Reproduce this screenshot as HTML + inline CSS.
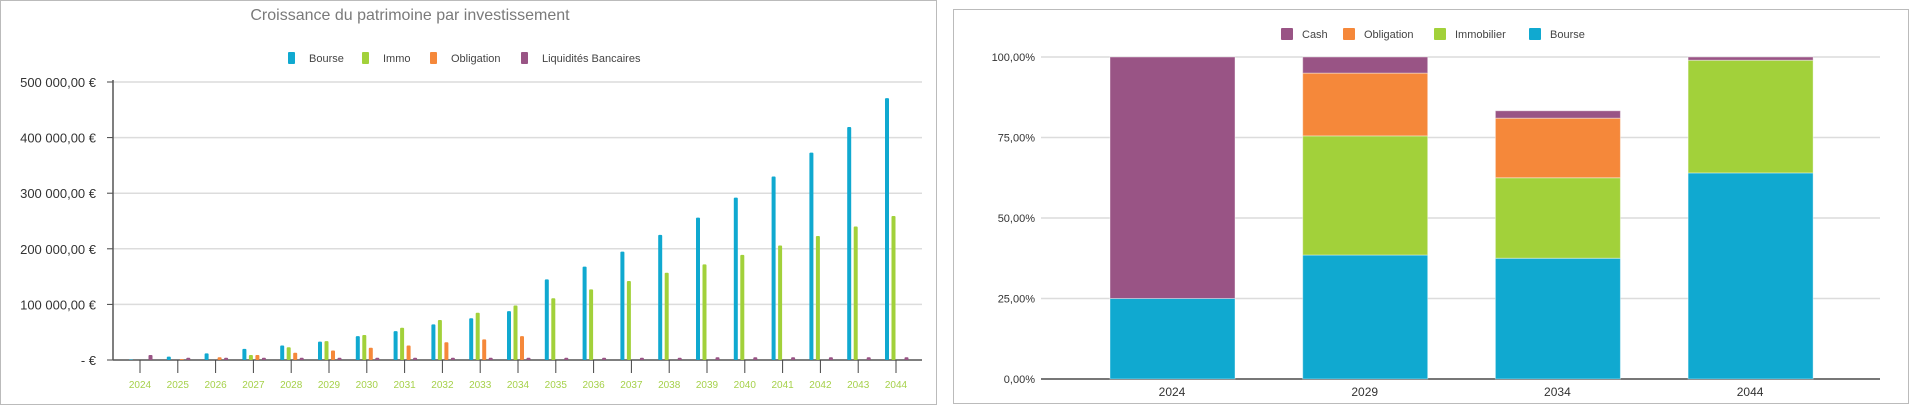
<!DOCTYPE html>
<html><head><meta charset="utf-8"><style>
html,body{margin:0;padding:0;background:#fff;}
svg{display:block;font-family:"Liberation Sans",sans-serif;}
</style></head><body>
<svg id="s" width="1920" height="408" xmlns="http://www.w3.org/2000/svg">
<rect x="0.5" y="0.5" width="936" height="404" fill="#fff" stroke="#bbb"/>
<rect x="953.5" y="9.5" width="955" height="394" fill="#fff" stroke="#bbb"/>
<text x="410" y="20" text-anchor="middle" font-size="16" fill="#7a7a7a">Croissance du patrimoine par investissement</text>
<g id="leftChart"></g>
<g id="rightChart"></g>
</svg>
<script>
const years = ["2024","2025","2026","2027","2028","2029","2030","2031","2032","2033","2034","2035","2036","2037","2038","2039","2040","2041","2042","2043","2044"];
const bourse = [1000,6000,12000,20000,26000,33000,43000,52000,64000,75000,88000,145000,168000,195000,225000,256000,292000,330000,373000,419000,471000];
const immo = [0,0,0,9000,23000,34000,45000,58000,72000,85000,98000,111000,127000,142000,157000,172000,189000,206000,223000,240000,259000];
const obligation = [0,1500,5000,9000,13000,17000,22000,26000,32000,37000,43000,0,0,0,0,0,0,0,0,0,0];
const liquidites = [9000,4000,4000,4000,4000,4000,4000,4000,4000,4000,4000,4000,4000,4000,4000,5000,5000,5000,5000,5000,5000];
const yTicks = [0,100000,200000,300000,400000,500000];
const yTickLabels = ["-   €","100 000,00   €","200 000,00   €","300 000,00   €","400 000,00   €","500 000,00   €"];

const pctYears = ["2024","2029","2034","2044"];
const pctBourse = [25,38.5,37.5,64];
const pctImmo = [0,37,25,35];
const pctOblig = [0,19.5,18.5,0];
const pctCash = [75,5,2.3,1];
const pctTicks = [0,25,50,75,100];
const pctTickLabels = ["0,00%","25,00%","50,00%","75,00%","100,00%"];

const NS="http://www.w3.org/2000/svg";
const C={b:"#10a9d0",i:"#a2d13a",o:"#f5883a",c:"#995485"};
function mk(p,tag,at,txt){const e=document.createElementNS(NS,tag);for(const k in at)e.setAttribute(k,at[k]);if(txt!==undefined)e.textContent=txt;p.appendChild(e);return e;}

// LEFT
const L=document.getElementById('leftChart');
const ly=v=>360-v/500000*278;
const lx=i=>140+i*37.8;
yTicks.forEach((t,k)=>{
  if(t>0){const g=mk(L,'line',{x1:113,x2:922,y1:ly(t),y2:ly(t),stroke:"#dcdcdc","stroke-width":1.5});
  
  }
  const tk=mk(L,'line',{x1:107,x2:113,y1:ly(t),y2:ly(t),stroke:"#444"});
  
  
  const tx=mk(L,'text',{x:96,y:ly(t)+5,"text-anchor":"end","font-size":"13",fill:"#333"},yTickLabels[k]);
  
  
});
mk(L,'line',{x1:113,x2:113,y1:80,y2:360,stroke:"#555","stroke-width":1.5});
mk(L,'line',{x1:113,x2:922,y1:360,y2:360,stroke:"#555","stroke-width":1.5});
const series=[[bourse,C.b,'bourse'],[immo,C.i,'immo'],[obligation,C.o,'obligation'],[liquidites,C.c,'liquidites']];
years.forEach((y,i)=>{
  const tk=mk(L,'line',{x1:lx(i),x2:lx(i),y1:360,y2:373,stroke:"#444"});
  
  
  const t=mk(L,'text',{x:lx(i),y:388,"text-anchor":"middle","font-size":"10",fill:"#a6d14a"},y);
  
  
  series.forEach((s,j)=>{
    const v=s[0][i]; if(!v) return;
    const x=lx(i)-11+j*6.5;
    const r=mk(L,'rect',{x:x,y:ly(v),width:4,height:360-ly(v),fill:s[1],rx:1});
    
    
  });
});
const legL=[["Bourse",C.b,288],["Immo",C.i,362],["Obligation",C.o,430],["Liquidités Bancaires",C.c,521]];
legL.forEach(l=>{
  const g=mk(L,'g',{});
  
  
  mk(g,'rect',{x:l[2],y:52,width:7,height:12,fill:l[1],rx:1});
  mk(g,'text',{x:l[2]+21,y:62,"font-size":"11",fill:"#444"},l[0]);
});

// RIGHT
const R=document.getElementById('rightChart');
const ry=v=>379-v/100*322;
const rx=i=>1172+i*192.7;
pctTicks.forEach((t,k)=>{
  const g=mk(R,'line',{x1:1041,x2:1880,y1:ry(t),y2:ry(t),stroke:t?"#dcdcdc":"#777","stroke-width":t?1.5:2});
  
  
  const tx=mk(R,'text',{x:1035,y:ry(t)+4,"text-anchor":"end","font-size":"11",fill:"#333"},pctTickLabels[k]);
  
  
});
const stack=[[pctBourse,C.b,'bourse'],[pctImmo,C.i,'immobilier'],[pctOblig,C.o,'obligation'],[pctCash,C.c,'cash']];
pctYears.forEach((y,i)=>{
  let acc=0;
  stack.forEach(s=>{
    const v=s[0][i]; if(!v) return;
    const r=mk(R,'rect',{x:rx(i)-62,y:ry(acc+v),width:125,height:ry(acc)-ry(acc+v),fill:s[1],stroke:"#fff","stroke-opacity":"0.4","stroke-width":1});
    
    
    acc+=v;
  });
  const t=mk(R,'text',{x:rx(i),y:396,"text-anchor":"middle","font-size":"12",fill:"#333"},y);
  
  
});
const legR=[["Cash",C.c,1281],["Obligation",C.o,1343],["Immobilier",C.i,1434],["Bourse",C.b,1529]];
legR.forEach(l=>{
  const g=mk(R,'g',{});
  
  
  mk(g,'rect',{x:l[0]==="Cash"?1281:l[2],y:28,width:12,height:12,fill:l[1],rx:1});
  mk(g,'text',{x:l[2]+21,y:38,"font-size":"11",fill:"#444"},l[0]);
});
</script>
</body></html>
